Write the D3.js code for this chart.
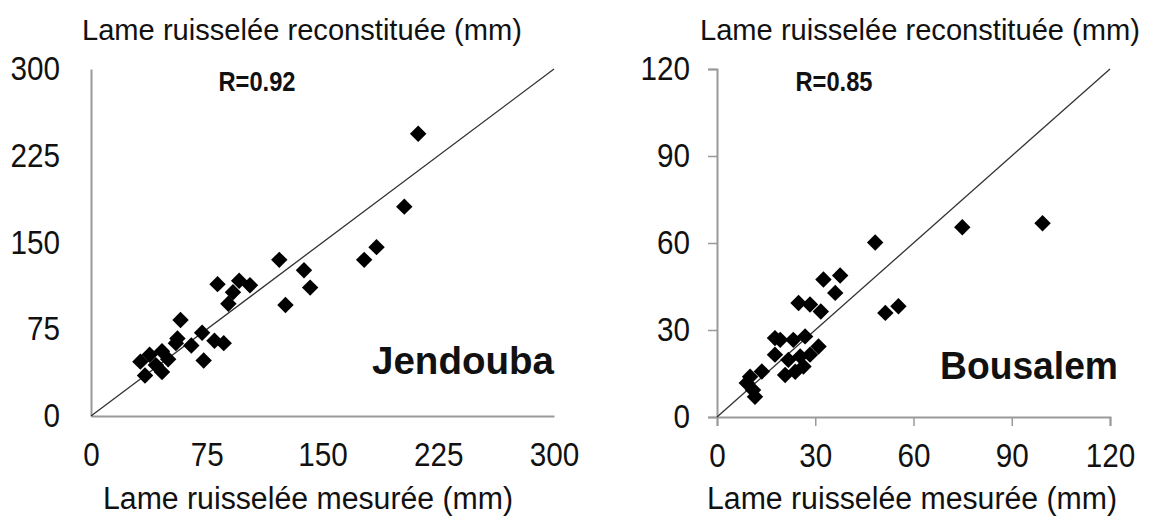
<!DOCTYPE html>
<html>
<head>
<meta charset="utf-8">
<script src="https://cdn.jsdelivr.net/npm/d3@7"></script>
<style>
  html, body { margin: 0; padding: 0; background: #fff; }
  svg { display: block; }
  text { font-family: "Liberation Sans", Arial, sans-serif; fill: #111; }
</style>
</head>
<body>
<svg id="chart" width="1157" height="525"></svg>
<script>
// Jendouba: measured vs reconstituted runoff depth (mm)
const jendoubaMeasured = [212, 203, 185, 177, 122, 138, 142, 126, 82, 96, 103, 92, 89, 58, 72, 80, 86, 73, 65, 55, 56, 46, 38, 32, 35, 46, 50, 42];
const jendoubaReconst  = [244, 181, 146, 135, 135, 126, 111, 96, 114, 117, 113, 107, 97, 83, 72, 65, 63, 48, 61, 63, 67, 56, 53, 47, 35, 38, 49, 44];

// Bousalem
const bousalemMeasured = [32.5, 37.6, 36.1, 24.9, 28.4, 31.7, 17.7, 19.3, 23.3, 26.9, 31.0, 17.7, 21.8, 25.4, 28.4, 20.8, 26.4, 23.9, 10.1, 13.7, 9.1, 11.6, 11.0, 51.4, 55.4, 48.3, 74.9, 99.4];
const bousalemReconst  = [47.4, 48.8, 42.8, 39.3, 38.8, 36.4, 27.2, 26.6, 26.6, 27.8, 24.3, 21.5, 19.7, 20.9, 21.5, 14.5, 17.4, 15.6, 13.9, 15.7, 11.7, 7.0, 9.3, 35.9, 38.2, 60.2, 65.4, 66.8];

const jendoubaTicks = [0, 75, 150, 225, 300];
const bousalemTicks = [0, 30, 60, 90, 120];

const titleY = "Lame ruisselée reconstituée (mm)";
const titleX = "Lame ruisselée mesurée (mm)";

const svg = d3.select("#chart");

function panel(cfg) {
  const x = d3.scaleLinear().domain([0, cfg.max]).range(cfg.xr);
  const y = d3.scaleLinear().domain([0, cfg.max]).range(cfg.yr);
  const g = svg.append("g");
  const tickLen = cfg.ticks ? 9 : 0;

  // axes
  const ax = g.append("g").attr("transform", `translate(0,${cfg.yr[0]})`)
    .call(d3.axisBottom(x).tickValues(cfg.tickValues).tickSize(tickLen).tickSizeOuter(tickLen).tickPadding(27 - tickLen));
  const ay = g.append("g").attr("transform", `translate(${cfg.xr[0]},0)`)
    .call(d3.axisLeft(y).tickValues(cfg.tickValues).tickSize(tickLen).tickSizeOuter(tickLen).tickPadding(cfg.yPad));
  [ax, ay].forEach(a => {
    a.select(".domain").attr("stroke", "#9a9a9a").attr("stroke-width", 2);
    a.selectAll(".tick line").attr("stroke", "#9a9a9a").attr("stroke-width", 1.5);
    a.selectAll(".tick text").attr("fill", "#000")
      .style("font-size", "33px")
      .style("font-family", '"Liberation Sans", Arial, sans-serif')
      .attr("textLength", d => String(d).length * 16.5)
      .attr("lengthAdjust", "spacingAndGlyphs");
  });
  if (!cfg.ticks) {
    ax.selectAll(".tick line").remove();
    ay.selectAll(".tick line").remove();
  }

  // 1:1 line
  g.append("line")
    .attr("x1", x(0)).attr("y1", y(0))
    .attr("x2", x(cfg.max)).attr("y2", y(cfg.max))
    .attr("stroke", "#333").attr("stroke-width", 1.3);

  // points
  const sym = d3.symbol().type(d3.symbolSquare).size(135);
  g.append("g").selectAll("path")
    .data(cfg.mx.map((v, i) => [v, cfg.my[i]]))
    .join("path")
      .attr("d", sym)
      .attr("transform", d => `translate(${x(d[0])},${y(d[1])}) rotate(45)`)
      .attr("fill", "#000");

  // labels
  g.append("text").attr("x", cfg.topX).attr("y", 40).attr("text-anchor", "middle")
    .attr("textLength", 440).attr("lengthAdjust", "spacingAndGlyphs")
    .style("font-size", "30px").text(titleY);
  g.append("text").attr("x", cfg.botX).attr("y", 509).attr("text-anchor", "middle")
    .attr("textLength", 410).attr("lengthAdjust", "spacingAndGlyphs")
    .style("font-size", "31px").text(titleX);
  g.append("text").attr("x", cfg.rX).attr("y", 91).attr("text-anchor", "middle")
    .attr("textLength", 77).attr("lengthAdjust", "spacingAndGlyphs")
    .style("font-size", "28px").style("font-weight", "bold").text(cfg.r);
  g.append("text").attr("x", cfg.nameX).attr("y", cfg.nameY).attr("text-anchor", "start")
    .attr("textLength", cfg.nameW).attr("lengthAdjust", "spacingAndGlyphs")
    .style("font-size", "39px").style("font-weight", "bold").text(cfg.name);
}

panel({
  max: 300, xr: [91, 554], yr: [416, 69], tickValues: jendoubaTicks, ticks: false, yPad: 31,
  mx: jendoubaMeasured, my: jendoubaReconst,
  topX: 302, botX: 308, rX: 257, r: "R=0.92", name: "Jendouba", nameX: 372, nameW: 182, nameY: 374
});
panel({
  max: 120, xr: [717, 1110], yr: [417, 69], tickValues: bousalemTicks, ticks: true, yPad: 18,
  mx: bousalemMeasured, my: bousalemReconst,
  topX: 920, botX: 912, rX: 834, r: "R=0.85", name: "Bousalem", nameX: 940, nameW: 178, nameY: 379
});
</script>
</body>
</html>
